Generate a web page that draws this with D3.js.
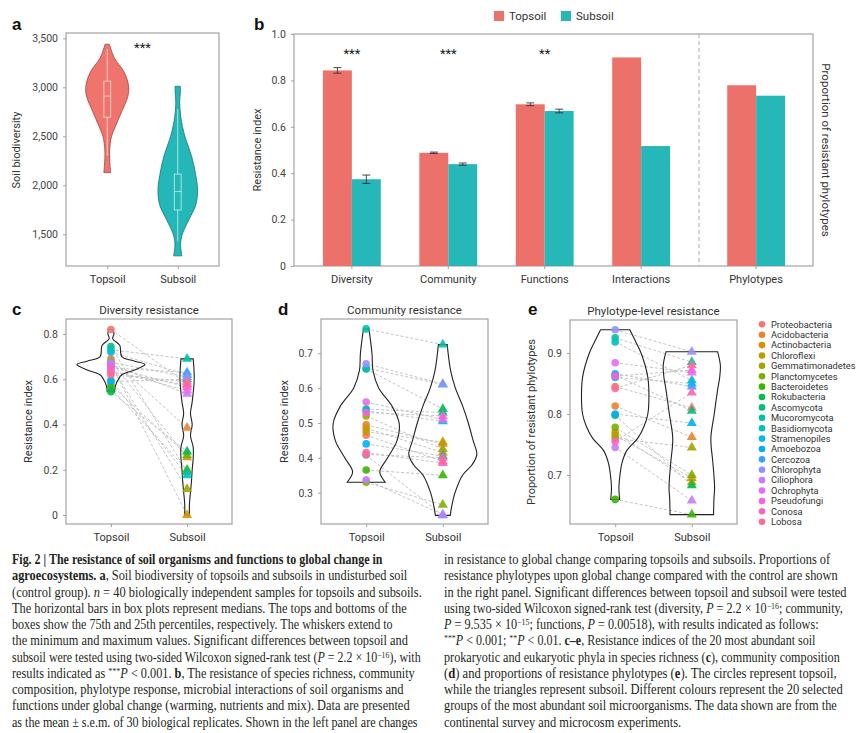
<!DOCTYPE html>
<html>
<head>
<meta charset="utf-8">
<script src="https://cdn.jsdelivr.net/npm/d3@7"></script>
<style>
  body { margin: 0; background: #fff; }
  svg text { font-family: Roboto, "Noto Sans", sans-serif; }
  svg .caption text { font-family: "Liberation Serif", "DejaVu Serif", serif; }
</style>
</head>
<body>
<svg id="fig" width="865" height="733"></svg>
<script>
// ---------- data ----------
const soils = ["Topsoil", "Subsoil"];

// a: violin outlines: [soil biodiversity, relative density]
const bioTopViolin = [[2130, 0.16], [2200, 0.13], [2350, 0.11], [2500, 0.2], [2600, 0.38], [2750, 0.67],
                      [2900, 0.95], [3000, 1.0], [3150, 0.8], [3300, 0.33], [3440, 0.1]];
const bioSubViolin = [[1280, 0.19], [1400, 0.13], [1500, 0.21], [1650, 0.52], [1800, 0.84], [1950, 0.92],
                      [2100, 0.84], [2300, 0.64], [2500, 0.33], [2700, 0.14], [2850, 0.09], [2950, 0.12], [3010, 0.12]];
// box: [whisker low, q1, median, q3, whisker high]
const bioTopBox = [2300, 2695, 2910, 3062, 3390];
const bioSubBox = [1430, 1748, 1936, 2114, 2780];
const bioTicks = [1500, 2000, 2500, 3000, 3500];

// b: mean resistance index ± s.e.m.
const resistCats = ["Diversity", "Community", "Functions", "Interactions"];
const topMeans = [0.843, 0.488, 0.697, 0.899];
const topErr = [0.012, 0.003, 0.006, 0];
const subMeans = [0.374, 0.439, 0.668, 0.517];
const subErr = [0.018, 0.005, 0.008, 0];
const sigLabels = ["***", "***", "**", ""];
const phyloCats = ["Phylotypes"];
const phyloTop = [0.779];
const phyloSub = [0.734];
const resistTicks = [0, 0.2, 0.4, 0.6, 0.8, 1.0];

// c–e: 20 most abundant phyla
const phyla = ["Proteobacteria", "Acidobacteria", "Actinobacteria", "Chloroflexi", "Gemmatimonadetes",
  "Planctomycetes", "Bacteroidetes", "Rokubacteria", "Ascomycota", "Mucoromycota", "Basidiomycota",
  "Stramenopiles", "Amoebozoa", "Cercozoa", "Chlorophyta", "Ciliophora", "Ochrophyta", "Pseudofungi",
  "Conosa", "Lobosa"];
const phylaColors = ["#F8766D", "#EA8331", "#D89000", "#C09B00", "#A3A500", "#7CAE00", "#39B600",
  "#00BB4E", "#00BF7D", "#00C1A3", "#00BFC4", "#00BAE0", "#00B0F6", "#35A2FF", "#9590FF", "#C77CFF",
  "#E76BF3", "#FA62DB", "#FF62BC", "#FF6C91"];

// c: diversity resistance
const divTop = [0.82, 0.69, 0.67, 0.68, 0.66, 0.575, 0.56, 0.545, 0.745, 0.73,
                0.595, 0.72, 0.59, 0.65, 0.675, 0.665, 0.64, 0.655, 0.63, 0.62];
const divSub = [0.58, 0.385, 0.0, 0.255, 0.115, 0.265, 0.2, 0.28, 0.19, 0.69,
                0.175, 0.62, 0.6, 0.63, 0.61, 0.535, 0.55, 0.565, 0.575, 0.59];
const divTopViolin = [[0.545, 0.11], [0.57, 0.13], [0.6, 0.22], [0.62, 0.32], [0.64, 0.68], [0.665, 1.0],
                      [0.68, 0.7], [0.7, 0.32], [0.75, 0.26], [0.78, 0.05], [0.8, 0.09], [0.82, 0.06]];
const divSubViolin = [[0, 0.07], [0.05, 0.07], [0.1, 0.1], [0.15, 0.13], [0.2, 0.15], [0.25, 0.18], [0.3, 0.18],
                      [0.35, 0.1], [0.4, 0.15], [0.45, 0.1], [0.5, 0.15], [0.6, 0.21], [0.69, 0.18]];
const divTicks = [0, 0.2, 0.4, 0.6, 0.8];

// d: community resistance
const comTop = [0.465, 0.495, 0.485, 0.475, 0.52, 0.33, 0.365, 0.655, 0.54, 0.77,
                0.658, 0.535, 0.44, 0.408, 0.67, 0.337, 0.56, 0.53, 0.415, 0.41];
const comSub = [0.39, 0.44, 0.415, 0.445, 0.425, 0.265, 0.35, 0.54, 0.53, 0.725,
                0.61, 0.505, 0.405, 0.235, 0.612, 0.237, 0.51, 0.52, 0.385, 0.4];
const comTopViolin = [[0.33, 0.56], [0.36, 0.4], [0.4, 0.63], [0.45, 0.91], [0.5, 0.97], [0.55, 0.75],
                      [0.6, 0.37], [0.65, 0.2], [0.7, 0.17], [0.77, 0.08]];
const comSubViolin = [[0.235, 0.22], [0.26, 0.26], [0.3, 0.36], [0.35, 0.58], [0.38, 0.86], [0.41, 1.0],
                      [0.45, 0.89], [0.5, 0.75], [0.55, 0.58], [0.6, 0.37], [0.65, 0.23], [0.725, 0.13]];
const comTicks = [0.3, 0.4, 0.5, 0.6, 0.7];

// e: proportion of resistant phylotypes
const phyTop = [0.845, 0.813, 0.765, 0.77, 0.76, 0.778, 0.66, 0.798, 0.864, 0.925,
                0.918, 0.86, 0.80, 0.866, 0.938, 0.745, 0.884, 0.862, 0.755, 0.842];
const phySub = [0.81, 0.762, 0.695, 0.688, 0.745, 0.7, 0.635, 0.683, 0.805, 0.885,
                0.855, 0.85, 0.785, 0.845, 0.902, 0.658, 0.868, 0.872, 0.835, 0.88];
const phyTopViolin = [[0.66, 0.13], [0.68, 0.11], [0.7, 0.14], [0.72, 0.2], [0.74, 0.34], [0.76, 0.66],
                      [0.78, 0.85], [0.8, 0.96], [0.82, 0.99], [0.86, 0.96], [0.9, 0.76], [0.92, 0.59], [0.938, 0.43]];
const phySubViolin = [[0.635, 0.64], [0.66, 0.65], [0.68, 0.67], [0.72, 0.62], [0.76, 0.56], [0.8, 0.66],
                      [0.84, 0.76], [0.86, 0.82], [0.88, 0.84], [0.902, 0.76]];
const phyTicks = [0.7, 0.8, 0.9];

// caption lines (<b>, <i>, <sup> markup)
const captionLeft = [
  "<b>Fig. 2 | The resistance of soil organisms and functions to global change in</b>",
  "<b>agroecosystems. a</b>, Soil biodiversity of topsoils and subsoils in undisturbed soil",
  "(control group). <i>n</i> = 40 biologically independent samples for topsoils and subsoils.",
  "The horizontal bars in box plots represent medians. The tops and bottoms of the",
  "boxes show the 75th and 25th percentiles, respectively. The whiskers extend to",
  "the minimum and maximum values. Significant differences between topsoil and",
  "subsoil were tested using two-sided Wilcoxon signed-rank test (<i>P</i> = 2.2 × 10<sup>−16</sup>), with",
  "results indicated as <sup>***</sup><i>P</i> < 0.001. <b>b</b>, The resistance of species richness, community",
  "composition, phylotype response, microbial interactions of soil organisms and",
  "functions under global change (warming, nutrients and mix). Data are presented",
  "as the mean ± s.e.m. of 30 biological replicates. Shown in the left panel are changes"
];
const captionLeftEnds = [383, 408, 422, 407, 393, 408, 421, 415, 404, 410, 418];
const captionRight = [
  "in resistance to global change comparing topsoils and subsoils. Proportions of",
  "resistance phylotypes upon global change compared with the control are shown",
  "in the right panel. Significant differences between topsoil and subsoil were tested",
  "using two-sided Wilcoxon signed-rank test (diversity, <i>P</i> = 2.2 × 10<sup>−16</sup>; community,",
  "<i>P</i> = 9.535 × 10<sup>−15</sup>; functions, <i>P</i> = 0.00518), with results indicated as follows:",
  "<sup>***</sup><i>P</i> < 0.001; <sup>**</sup><i>P</i> < 0.01. <b>c–e</b>, Resistance indices of the 20 most abundant soil",
  "prokaryotic and eukaryotic phyla in species richness (<b>c</b>), community composition",
  "(<b>d</b>) and proportions of resistance phylotypes (<b>e</b>). The circles represent topsoil,",
  "while the triangles represent subsoil. Different colours represent the 20 selected",
  "groups of the most abundant soil microorganisms. The data shown are from the",
  "continental survey and microcosm experiments."
];
const captionRightEnds = [831, 838, 847, 843, 820, 816, 840, 837, 843, 837, null];

// ---------- drawing ----------
const topColor = "#EC716B", subColor = "#26B8B8";
const frameStroke = "#a3a3a3";
const svg = d3.select("#fig");
svg.append("rect").attr("width", 865).attr("height", 733).attr("fill", "#fff");

function drawFrame(f) {
  svg.append("rect").attr("x", f.x0).attr("y", f.y0)
    .attr("width", f.x1 - f.x0).attr("height", f.y1 - f.y0)
    .attr("fill", "none").attr("stroke", frameStroke).attr("stroke-width", 1.2);
}

function styleAxis(ax) {
  ax.select(".domain").remove();
  ax.selectAll("line").attr("stroke", frameStroke);
  ax.selectAll("text").attr("fill", "#444").style("font-size", "10.5px");
}

const fmtRes = d => d === 0 ? "0" : d3.format(".1f")(d);

function drawYAxis(f, y, ticks, fmt) {
  const ax = svg.append("g").attr("transform", `translate(${f.x0},0)`)
    .call(d3.axisLeft(y).tickValues(ticks).tickFormat(fmt).tickSize(3).tickPadding(5));
  styleAxis(ax);
}

function drawXAxis(f, x) {
  const ax = svg.append("g").attr("transform", `translate(0,${f.y1})`)
    .call(d3.axisBottom(x).tickSize(3).tickPadding(6));
  styleAxis(ax);
  ax.selectAll("text").style("font-size", "11px").attr("fill", "#333");
}

function yLabel(x, y, txt) {
  svg.append("text").attr("transform", `translate(${x},${y}) rotate(-90)`)
    .attr("text-anchor", "middle").attr("fill", "#333").style("font-size", "11px").text(txt);
}

function panelLetter(x, y, txt) {
  svg.append("text").attr("x", x).attr("y", y)
    .style("font-family", "'Liberation Sans', Arial, sans-serif")
    .style("font-weight", "bold").style("font-size", "17px").attr("fill", "#111").text(txt);
}

function panelTitle(f, txt) {
  svg.append("text").attr("x", (f.x0 + f.x1) / 2).attr("y", f.y0 - 5)
    .attr("text-anchor", "middle").attr("fill", "#333").style("font-size", "11.5px").text(txt);
}

function violin(profile, y, cx, w, fill, stroke, sw) {
  const area = d3.area()
    .y(d => y(d[0]))
    .x0(d => cx - w(d[1]))
    .x1(d => cx + w(d[1]))
    .curve(d3.curveCatmullRom.alpha(0.5));
  svg.append("path").datum(profile).attr("d", area)
    .attr("fill", fill).attr("stroke", stroke).attr("stroke-width", sw);
}

// ----- panel a -----
const fa = {x0: 66, x1: 219, y0: 33, y1: 266};
const ya = d3.scaleLinear().domain([1500, 3500]).range([234.3, 38.3]);
const xa = d3.scalePoint().domain(soils).range([fa.x0, fa.x1]).padding(0.585);
const wa = d3.scaleLinear().domain([0, 1]).range([0, 21.5]);
drawFrame(fa);
violin(bioTopViolin, ya, xa("Topsoil"), wa, "#EF746E", "#9a4541", 0.8);
violin(bioSubViolin, ya, xa("Subsoil"), wa, "#23B7B8", "#157576", 0.8);
[[bioTopBox, "Topsoil"], [bioSubBox, "Subsoil"]].forEach(([b, s]) => {
  const cx = xa(s), g = svg.append("g").attr("stroke", "rgba(255,255,255,0.6)").attr("stroke-width", 1).attr("fill", "none");
  g.append("line").attr("x1", cx).attr("x2", cx).attr("y1", ya(b[0])).attr("y2", ya(b[1]));
  g.append("line").attr("x1", cx).attr("x2", cx).attr("y1", ya(b[3])).attr("y2", ya(b[4]));
  g.append("rect").attr("x", cx - 3.4).attr("width", 6.8).attr("y", ya(b[3])).attr("height", ya(b[1]) - ya(b[3]));
  g.append("line").attr("x1", cx - 3.4).attr("x2", cx + 3.4).attr("y1", ya(b[2])).attr("y2", ya(b[2]));
});
drawYAxis(fa, ya, bioTicks, d3.format(","));
drawXAxis(fa, xa);
svg.append("text").attr("x", (xa("Topsoil") + xa("Subsoil")) / 2).attr("y", 52)
  .attr("text-anchor", "middle").style("font-size", "13px").attr("fill", "#222").text("***");
yLabel(20, 150, "Soil biodiversity");
panelLetter(12, 30, "a");

// ----- panel b -----
const fb = {x0: 294, x1: 813, y0: 34, y1: 266};
const splitX = 699;
const yb = d3.scaleLinear().domain([0, 1]).range([fb.y1, fb.y0]);
const xb = d3.scaleBand().domain(resistCats).range([fb.x0, splitX]).paddingInner(0.4).paddingOuter(0.3);
const xp = d3.scaleBand().domain(phyloCats).range([splitX, fb.x1]).paddingInner(0).paddingOuter(0.49);
const xs = d3.scaleBand().domain(soils).range([0, xb.bandwidth()]);
drawFrame(fb);
svg.append("line").attr("x1", splitX).attr("x2", splitX).attr("y1", fb.y0).attr("y2", fb.y1)
  .attr("stroke", "#aaa").attr("stroke-dasharray", "4,3");

const barRows = resistCats.map((c, i) => ({c, x: xb(c), top: topMeans[i], sub: subMeans[i], te: topErr[i], se: subErr[i], sig: sigLabels[i]}))
  .concat(phyloCats.map((c, i) => ({c, x: xp(c), top: phyloTop[i], sub: phyloSub[i], te: 0, se: 0, sig: ""})));

const bars = svg.append("g");
barRows.forEach(r => {
  [["Topsoil", r.top, r.te, topColor], ["Subsoil", r.sub, r.se, subColor]].forEach(([s, v, e, col]) => {
    const x0 = r.x + xs(s);
    bars.append("rect").attr("x", x0).attr("width", xs.bandwidth())
      .attr("y", yb(v)).attr("height", yb(0) - yb(v)).attr("fill", col);
    if (e > 0) {
      const cx = x0 + xs.bandwidth() / 2, eb = bars.append("g").attr("stroke", "#333").attr("stroke-width", 0.9);
      eb.append("line").attr("x1", cx).attr("x2", cx).attr("y1", yb(v + e)).attr("y2", yb(v - e));
      eb.append("line").attr("x1", cx - 4).attr("x2", cx + 4).attr("y1", yb(v + e)).attr("y2", yb(v + e));
      eb.append("line").attr("x1", cx - 4).attr("x2", cx + 4).attr("y1", yb(v - e)).attr("y2", yb(v - e));
    }
  });
  if (r.sig) {
    svg.append("text").attr("x", r.x + xb.bandwidth() / 2).attr("y", 58)
      .attr("text-anchor", "middle").style("font-size", "13px").attr("fill", "#222").text(r.sig);
  }
});
drawYAxis(fb, yb, resistTicks, fmtRes);
drawXAxis(fb, xb);
drawXAxis(fb, xp);
yLabel(261, 150, "Resistance index");
svg.append("text").attr("transform", `translate(822,150) rotate(90)`)
  .attr("text-anchor", "middle").attr("fill", "#333").style("font-size", "11.5px")
  .text("Proportion of resistant phylotypes");
panelLetter(254, 30, "b");

// legend b
const legB = svg.append("g");
[["Topsoil", topColor, 494], ["Subsoil", subColor, 561]].forEach(([s, col, x]) => {
  legB.append("rect").attr("x", x).attr("y", 11).attr("width", 10).attr("height", 10).attr("fill", col);
  legB.append("text").attr("x", x + 15).attr("y", 20).attr("fill", "#333").style("font-size", "11.5px").text(s);
});

// ----- panels c–e -----
function pairedPanel(f, domain, rangeY, ticks, top, sub, topV, subV, title, label, labelX, letter, letterX) {
  const y = d3.scaleLinear().domain(domain).range(rangeY);
  const x = d3.scalePoint().domain(soils).range([f.x0, f.x1]).padding(0.59);
  const w = d3.scaleLinear().domain([0, 1]).range([0, 34]);
  drawFrame(f);
  const lines = svg.append("g").attr("stroke", "#bdbdbd").attr("stroke-width", 0.9).attr("stroke-dasharray", "3,2");
  phyla.forEach((p, i) => {
    lines.append("line").attr("x1", x("Topsoil")).attr("y1", y(top[i]))
      .attr("x2", x("Subsoil")).attr("y2", y(sub[i]));
  });
  violin(topV, y, x("Topsoil"), w, "none", "#222", 1.1);
  violin(subV, y, x("Subsoil"), w, "none", "#222", 1.1);
  const pts = svg.append("g");
  const tri = d3.symbol().type(d3.symbolTriangle).size(44);
  phyla.forEach((p, i) => {
    pts.append("circle").attr("cx", x("Topsoil")).attr("cy", y(top[i])).attr("r", 3.8)
      .attr("fill", phylaColors[i]).attr("fill-opacity", 0.9);
  });
  phyla.forEach((p, i) => {
    pts.append("path").attr("d", tri).attr("transform", `translate(${x("Subsoil")},${y(sub[i])})`)
      .attr("fill", phylaColors[i]).attr("fill-opacity", 0.9);
  });
  drawYAxis(f, y, ticks, fmtRes);
  drawXAxis(f, x);
  panelTitle(f, title);
  yLabel(labelX, (f.y0 + f.y1) / 2, label);
  panelLetter(letterX, 315, letter);
}

pairedPanel({x0: 66, x1: 232, y0: 319, y1: 524}, [0, 0.8], [515, 334], divTicks, divTop, divSub,
  divTopViolin, divSubViolin, "Diversity resistance", "Resistance index", 32, "c", 12);
pairedPanel({x0: 321, x1: 488, y0: 319, y1: 524}, [0.3, 0.7], [492.7, 353.3], comTicks, comTop, comSub,
  comTopViolin, comSubViolin, "Community resistance", "Resistance index", 288, "d", 278);
pairedPanel({x0: 570, x1: 737, y0: 320, y1: 524}, [0.7, 0.9], [475, 353], phyTicks, phyTop, phySub,
  phyTopViolin, phySubViolin, "Phylotype-level resistance", "Proportion of resistant phylotypes", 535, "e", 528);

// legend c–e
const legP = svg.append("g");
phyla.forEach((p, i) => {
  const yy = 324.3 + i * 10.39;
  legP.append("circle").attr("cx", 762).attr("cy", yy).attr("r", 3.3).attr("fill", phylaColors[i]);
  legP.append("text").attr("x", 771).attr("y", yy + 3.3).attr("fill", "#333").style("font-size", "9.3px").text(p);
});

// ----- caption -----
const cap = svg.append("g").attr("class", "caption").attr("fill", "#231f20");
function captionLine(str, x, y) {
  const t = cap.append("text").attr("transform", `translate(${x},${y})`).style("font-size", "13.8px");
  const parts = str.split(/(<(?:b|i|sup)>.*?<\/(?:b|i|sup)>)/).filter(s => s.length);
  let shifted = false;
  parts.forEach(s => {
    const m = s.match(/^<(b|i|sup)>(.*?)<\/\1>$/);
    const ts = t.append("tspan").text(m ? m[2] : s);
    if (shifted) { ts.attr("dy", 4); shifted = false; }
    if (m && m[1] === "b") ts.attr("font-weight", "bold");
    if (m && m[1] === "i") ts.attr("font-style", "italic");
    if (m && m[1] === "sup") { ts.attr("dy", -4).style("font-size", "9px"); shifted = true; }
  });
  return t;
}
function captionColumn(lines, ends, x0, y0) {
  const texts = lines.map((l, i) => captionLine(l, x0, y0 + i * 16.25));
  const ks = texts.map((t, i) => ends[i] ? (ends[i] - x0) / t.node().getBBox().width : null);
  const kMed = d3.median(ks.filter(k => k));
  texts.forEach((t, i) => {
    const k = ks[i] || kMed;
    t.attr("transform", `translate(${x0},${y0 + i * 16.25}) scale(${k},1)`);
  });
}
captionColumn(captionLeft, captionLeftEnds, 12, 564);
captionColumn(captionRight, captionRightEnds, 444, 564);
</script>
</body>
</html>
